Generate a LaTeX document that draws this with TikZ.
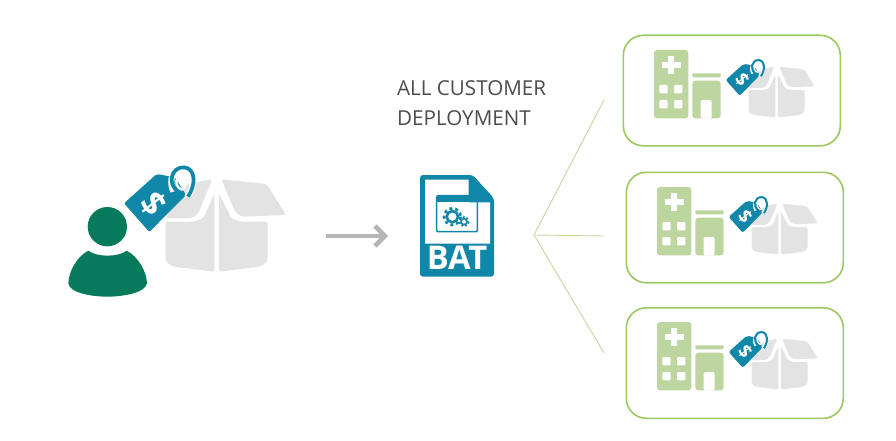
\documentclass[tikz,border=0pt]{standalone}
\usepackage{fontspec}
\setmainfont{Open Sans}
\usetikzlibrary{arrows.meta}
\definecolor{tagblue}{HTML}{1086A8}
\definecolor{boxgray}{HTML}{E3E3E3}
\definecolor{persongreen}{HTML}{067A5B}
\definecolor{hosp}{HTML}{BDD59F}
\definecolor{frameg}{HTML}{9BC85F}
\definecolor{lineg}{HTML}{C3D69B}
\definecolor{arrowg}{HTML}{B5B5B5}
\tikzset{
  x=1pt,y=-1pt,
  tagw/.initial=1,
  cardbox/.style={draw=frameg,line width=1.6pt,rounded corners=20pt,fill=white,inner sep=0pt,minimum width=217pt,minimum height=110.5pt},
  hoppart/.style={fill=hosp,rounded corners=3pt},
  fan/.style={draw=lineg,line width=.9pt},
  pics/tagbox/.style={code={
    \fill[boxgray,rounded corners=2pt] (345,205)--(415,100)--(487,88)--(445,190)--(425,205)--cycle;
    \fill[boxgray,rounded corners=2pt] (514,88)--(650,102)--(708,195)--(575,200)--(555,185)--cycle;
    \fill[boxgray,rounded corners=2pt] (347,215)--(430,215)--(460,205)--(493,130)--(493,365)--(370,350)--(347,335)--cycle;
    \fill[boxgray,rounded corners=2pt] (507,130)--(545,205)--(570,215)--(653,215)--(653,335)--(630,350)--(507,365)--cycle;
    \fill[tagblue,rounded corners=2pt] (222,160)--(320,72)--(375,82)--(408,135)--(298,246)--cycle;
    \draw[white,line width=6pt*\pgfkeysvalueof{/tikz/tagw}] (370,125) .. controls (352,85) and (375,45) .. (405,52) .. controls (438,62) and (432,115) .. (414,140);
    \draw[tagblue,line width=3.7pt*\pgfkeysvalueof{/tikz/tagw}] (384,124) .. controls (352,105) and (362,50) .. (402,52) .. controls (438,55) and (438,105) .. (414,140);
    \draw[white,line width=2.4pt*\pgfkeysvalueof{/tikz/tagw}] (385,82) .. controls (372,95) and (380,115) .. (398,120);
    \node[white,rotate=-52,transform shape,inner sep=0pt,font=\bfseries\fontsize{100}{100}\selectfont] at (312,160) {\$};
  }},
  pics/hospital/.style={code={
    \fill[hoppart] (132,75) rectangle (235,280);
    \fill[white] (175,92) rectangle (193,146);
    \fill[white] (157,110) rectangle (212,128);
    \foreach \a in {148,192} \foreach \b in {180,225}
      \fill[white,rounded corners=1pt] (\a,\b) rectangle ++(25,25);
    \fill[hosp,rounded corners=1pt] (247,145) rectangle (332,157);
    \fill[hoppart] (247,167) rectangle (332,280);
    \fill[white,rounded corners=2pt] (272,281) -- (272,225) -- (305,225) -- (305,281) -- cycle;
  }}
}
\begin{document}
\begin{tikzpicture}
\useasboundingbox (0,0) rectangle (896,441);
\begin{scope}[shift={(50,150)},scale=1/3]
  \pic[transform shape] {tagbox};
  \node[circle,fill=persongreen,minimum size=118pt,inner sep=0pt,transform shape] (head) at (172,230) {};
  \fill[persongreen] (115,302) .. controls (140,322) and (205,322) .. (230,302)
    .. controls (265,320) and (290,365) .. (291,400) .. controls (285,430) and (215,440) .. (172,440)
    .. controls (130,440) and (58,430) .. (55,400) .. controls (56,365) and (80,320) .. (115,302) -- cycle;
\end{scope}
\coordinate (arrowstart) at (326,236);
\coordinate (arrowend) at (388,236);
\draw[arrowg,line width=4.5pt,-{Straight Barb[length=10pt,width=20pt,line width=4.5pt]}] (arrowstart) -- (arrowend);
\node[anchor=base west,inner sep=0pt,text=black!70,font=\fontsize{20.6}{20.6}\selectfont] (l1) at (397,96) {ALL CUSTOMER};
\node[anchor=base west,inner sep=0pt,text=black!70,font=\fontsize{20.6}{20.6}\selectfont] (l2) at (397,125) {DEPLOYMENT};
\begin{scope}[shift={(400,165)},scale=1/3]
  \fill[tagblue,rounded corners=3pt] (60,30) -- (218,30) -- (282,100) -- (282,335) -- (60,335) -- cycle;
  \fill[white] (75,44) -- (206,44) -- (206,112) -- (270,112) -- (270,236) -- (75,236) -- cycle;
  \draw[tagblue,line width=1.5pt,rounded corners=1pt] (110,92) rectangle (232,200);
  \fill[tagblue] (110,92) rectangle (232,112);
  \draw[tagblue,line width=2.6pt] (157,155) circle (17);
  \draw[tagblue,line width=2.6pt,dash pattern=on 3pt off 3pt] (157,155) circle (25);
  \draw[tagblue,line width=1.6pt] (192,170) circle (9);
  \draw[tagblue,line width=1.6pt,dash pattern=on 2pt off 2pt] (192,170) circle (14);
  \node[white,transform shape,inner sep=0pt,font=\bfseries\fontsize{98}{98}\selectfont,anchor=base] (bat) at (171,312) {BAT};
\end{scope}
\coordinate (hub) at (534,235);
\coordinate (fa) at (604,100);
\coordinate (fb) at (604,236);
\coordinate (fc) at (604,353);
\draw[fan] (fa) -- (hub) -- (fc);
\draw[fan] (hub) -- (fb);
\node[cardbox,anchor=north west] (c1) at (622.5,34.5) {};
\node[cardbox,anchor=north west] (c2) at (625.5,171.5) {};
\node[cardbox,anchor=north west] (c3) at (625.5,307) {};
\foreach \dx/\dy in {0/0,3/137,3/272}{
  \begin{scope}[shift={(610+\dx,25+\dy)},scale=1/3]
    \pic[transform shape] {hospital};
  \end{scope}
  \begin{scope}[shift={(685+\dx,50.6+\dy)},scale=0.55/3,tagw=0.55]
    \pic[transform shape] {tagbox};
  \end{scope}
}
\end{tikzpicture}
\end{document}
